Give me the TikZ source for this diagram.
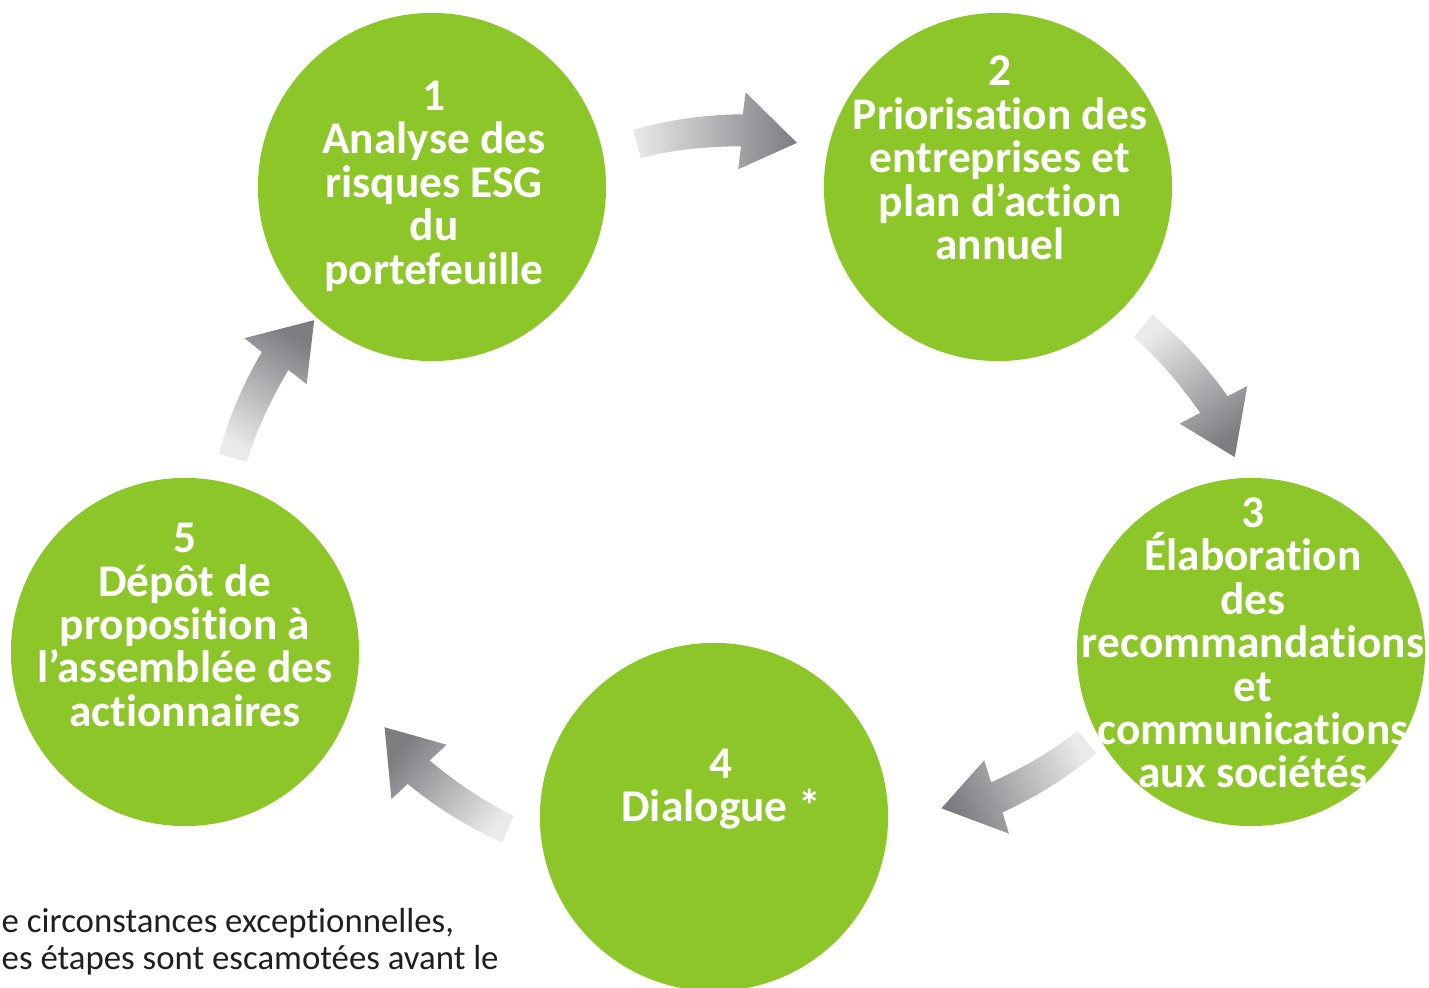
\documentclass[tikz,border=0pt]{standalone}
\usepackage{fontspec}
\setmainfont{Carlito}[Ligatures=NoCommon]
\usepackage{tikz}
\usetikzlibrary{positioning, calc}
\definecolor{stepgreen}{RGB}{140,198,40}
\definecolor{arrowlight}{RGB}{234,234,235}
\definecolor{arrowdark}{RGB}{124,125,129}

% curved grey arrow: tail at #1, turned by #2
\newcommand{\cycarrow}[2]{%
	\begin{scope}[shift={(#1)}, rotate=#2, y=0.01cm]
		\path[shading=axis, top color=arrowdark, bottom color=arrowlight, shading angle=#2-90]
			(-4,14) .. controls (30,24) and (70,29) .. (106,29) -- (109,51) -- (160,0)
			-- (101,-26) -- (104,-3) .. controls (70,-3) and (35,-6) .. (4,-14) -- cycle;
	\end{scope}}

\begin{document}
\begin{tikzpicture}[x=0.01cm, y=-0.01cm]
	\def \rowtop{187}
	\def \rowmid{652}
	\def \rowbot{817}
	\tikzstyle{step-node}=[circle,fill=stepgreen,inner sep=0pt,minimum size=34.8mm]
	\tikzstyle{step-lbl}=[text=white,align=center,inner sep=0pt,font=\bfseries\fontsize{12.9}{12.35}\selectfont]
	\tikzstyle{note-lbl}=[text=black!88,align=left,inner sep=0pt,font=\fontsize{9.9}{10.5}\selectfont]
	\useasboundingbox (0,0) rectangle (1429,988);
	\clip (0,0) rectangle (1429,988);

	% arrows
	\coordinate (a12) at (637,144);
	\coordinate (a23) at (1143,326);
	\coordinate (a34) at (1087,742);
	\coordinate (a45) at (508,829);
	\coordinate (a51) at (233,458);
	\cycarrow{a12}{0.4}
	\cycarrow{a23}{-55}
	\cycarrow{a34}{-155.5}
	\cycarrow{a45}{140.5}
	\cycarrow{a51}{59.5}

	% steps
	\node[step-node] (c1) at (432,\rowtop) {};
	\node[step-node] (c2) at (998,\rowtop) {};
	\node[step-node] (c3) at (1251,\rowmid) {};
	\node[step-node] (c4) at (714,\rowbot) {};
	\node[step-node] (c5) at (185,\rowmid) {};

	\node[step-lbl] (lbl1) at (434,186) {1\\Analyse des\\risques ESG\\du\\portefeuille};
	\node[step-lbl] (lbl2) at (1000,158) {2\\Priorisation des\\entreprises et\\plan d’action\\annuel};
	\node[step-lbl] (lbl3) at (1253,643) {3\\Élaboration\\des\\recommandations\\et\\communications\\aux sociétés};
	\node[step-lbl] (lbl4) at (721,789) {4\\Dialogue *};
	\node[step-lbl] (lbl5) at (185,625) {5\\Dépôt de\\proposition à\\l’assemblée des\\actionnaires};

	% note
	\node[note-lbl, anchor=north west] (note) at (1,908) {e circonstances exceptionnelles,\\es étapes sont escamotées avant le};
\end{tikzpicture}
\end{document}
